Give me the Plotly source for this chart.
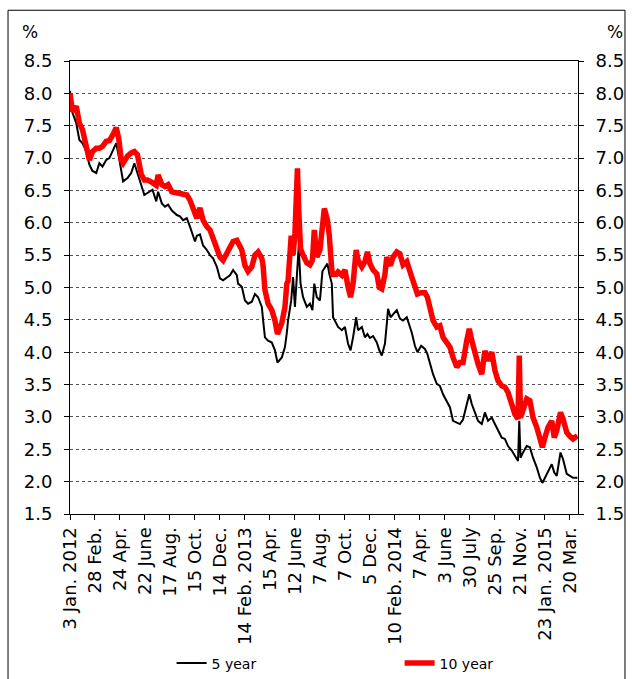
import plotly.graph_objects as go

# trading-day index since 3 Jan 2012 (one tick label every 40 trading days)
day_idx = [
    0, 4, 10, 15, 20, 26, 31, 36, 42, 47, 52, 58, 63, 68, 74, 78, 82, 85, 92, 98,
    103, 108, 114, 119, 124, 132, 138, 141, 147, 152, 157, 163, 171, 176, 181, 187, 192, 197, 200, 203,
    208, 213, 219, 224, 229, 235, 240, 245, 251, 256, 261, 267, 269, 275, 280, 285, 291, 296, 301, 307,
    309, 312, 317, 323, 328, 332, 339, 344, 347, 349, 354, 357, 360, 364, 366, 369, 373, 379, 384, 388,
    391, 395, 400, 404, 407, 412, 415, 419, 421, 426, 429, 435, 440, 445, 449, 453, 458, 461, 467, 472,
    476, 480, 485, 491, 495, 499, 504, 507, 509, 513, 517, 523, 528, 533, 539, 547, 552, 556, 562, 568,
    572, 576, 581, 587, 592, 597, 603, 608, 613, 619, 624, 629, 635, 639, 643, 648, 653, 659, 664, 669,
    675, 680, 685, 691, 696, 701, 707, 712, 717, 719, 721, 725, 731, 736, 741, 747, 752, 756, 760, 765,
    771, 775, 779, 785, 789, 795, 800, 805, 812,
]

yield_5y = [
    8.04, 7.70, 7.54, 7.28, 7.23, 7.10, 6.90, 6.80, 6.77, 6.92, 6.87, 6.97, 7.00, 7.10, 7.23, 7.03, 6.82, 6.64, 6.69, 6.77,
    6.92, 6.77, 6.56, 6.43, 6.46, 6.51, 6.33, 6.48, 6.30, 6.25, 6.28, 6.19, 6.12, 6.10, 6.04, 6.07, 5.94, 5.79, 5.71, 5.80,
    5.82, 5.65, 5.58, 5.50, 5.45, 5.32, 5.14, 5.11, 5.16, 5.19, 5.27, 5.19, 5.06, 5.01, 4.80, 4.75, 4.78, 4.90, 4.85, 4.70,
    4.50, 4.23, 4.18, 4.15, 4.03, 3.84, 3.92, 4.08, 4.30, 4.49, 4.80, 5.16, 4.70, 5.42, 5.63, 5.06, 4.85, 4.70, 4.75, 4.65,
    5.06, 4.85, 4.80, 5.25, 5.30, 5.37, 5.21, 5.06, 4.54, 4.44, 4.39, 4.34, 4.39, 4.13, 4.03, 4.23, 4.54, 4.34, 4.39, 4.23,
    4.28, 4.22, 4.25, 4.15, 4.03, 3.95, 4.13, 4.44, 4.67, 4.54, 4.59, 4.65, 4.52, 4.49, 4.54, 4.30, 4.10, 4.00, 4.10, 4.05,
    3.97, 3.82, 3.66, 3.51, 3.48, 3.35, 3.25, 3.15, 2.94, 2.91, 2.89, 2.96, 3.20, 3.35, 3.20, 3.07, 2.94, 2.89, 3.07, 2.94,
    2.99, 2.89, 2.79, 2.68, 2.66, 2.55, 2.48, 2.40, 2.32, 2.94, 2.37, 2.45, 2.55, 2.53, 2.37, 2.22, 2.06, 1.98, 2.06, 2.17,
    2.27, 2.14, 2.09, 2.45, 2.35, 2.12, 2.09, 2.06, 2.06,
]

yield_10y = [
    8.00, 7.72, 7.80, 7.54, 7.44, 7.18, 6.97, 7.10, 7.15, 7.15, 7.18, 7.26, 7.27, 7.35, 7.47, 7.30, 6.97, 6.92, 7.03, 7.08,
    7.10, 7.05, 6.75, 6.66, 6.66, 6.62, 6.58, 6.74, 6.59, 6.56, 6.59, 6.48, 6.46, 6.46, 6.45, 6.43, 6.35, 6.23, 6.15, 6.07,
    6.23, 6.04, 5.94, 5.89, 5.76, 5.60, 5.47, 5.42, 5.53, 5.60, 5.71, 5.73, 5.68, 5.58, 5.34, 5.25, 5.32, 5.50, 5.55, 5.45,
    5.34, 4.96, 4.75, 4.65, 4.49, 4.28, 4.45, 4.70, 5.06, 5.10, 5.80, 5.50, 5.84, 6.84, 6.20, 5.60, 5.50, 5.38, 5.35, 5.42,
    5.89, 5.47, 5.58, 6.10, 6.22, 6.04, 5.80, 5.27, 5.20, 5.20, 5.24, 5.19, 5.27, 5.01, 4.85, 5.06, 5.58, 5.42, 5.32, 5.40,
    5.55, 5.37, 5.27, 5.21, 5.00, 4.98, 5.20, 5.47, 5.40, 5.34, 5.47, 5.55, 5.52, 5.35, 5.40, 5.16, 4.98, 4.90, 4.92, 4.92,
    4.85, 4.65, 4.49, 4.39, 4.41, 4.23, 4.13, 4.08, 3.92, 3.77, 3.84, 3.84, 4.18, 4.36, 4.18, 3.97, 3.82, 3.66, 4.02, 3.87,
    4.00, 3.72, 3.56, 3.48, 3.46, 3.38, 3.22, 3.04, 2.97, 3.95, 2.99, 3.10, 3.28, 3.25, 2.99, 2.84, 2.63, 2.53, 2.68, 2.84,
    2.94, 2.68, 2.79, 3.07, 2.97, 2.76, 2.70, 2.66, 2.71,
]

tick_labels = [
    "3 Jan. 2012", "28 Feb.", "24 Apr.", "22 June", "17 Aug.", "15 Oct.", "14 Dec.",
    "14 Feb. 2013", "15 Apr.", "12 June", "7 Aug.", "7 Oct.", "5 Dec.",
    "10 Feb. 2014", "7 Apr.", "3 June", "30 July", "25 Sep.", "21 Nov.",
    "23 Jan. 2015", "20 Mar.",
]
tick_step = 40
y_ticks = [1.5, 2.0, 2.5, 3.0, 3.5, 4.0, 4.5, 5.0, 5.5, 6.0, 6.5, 7.0, 7.5, 8.0, 8.5]

FONT = "DejaVu Sans"

fig = go.Figure()
fig.add_trace(go.Scatter(
    x=day_idx, y=yield_5y, name="5 year", mode="lines",
    line=dict(color="#000000", width=2),
))
fig.add_trace(go.Scatter(
    x=day_idx, y=yield_10y, name="10 year", mode="lines",
    line=dict(color="#ff0000", width=5.5),
))
# invisible trace so the right-hand axis is drawn
fig.add_trace(go.Scatter(x=[0], y=[1.5], yaxis="y2", showlegend=False,
                         mode="lines", hoverinfo="skip", line=dict(width=0)))

yax = dict(
    range=[1.5, 8.5], tickvals=y_ticks, tickformat=".1f",
    showline=True, linecolor="#000000", linewidth=1,
    ticks="outside", ticklen=5, tickcolor="#000000",
    ticklabelstandoff=8, automargin=False,
    showgrid=True, gridcolor="#555555", griddash="dot", gridwidth=1,
    zeroline=False, tickfont=dict(size=18, color="#000000"),
)

fig.update_layout(
    width=632, height=679, autosize=False,
    margin=dict(l=70, r=54, t=61, b=165, autoexpand=False),
    paper_bgcolor="white", plot_bgcolor="white",
    font=dict(family=FONT, color="#000000"),
    showlegend=True,
    legend=dict(
        orientation="h", x=0.2, xanchor="left", y=-0.33, yanchor="middle",
        font=dict(size=14), entrywidth=183, entrywidthmode="pixels",
        bgcolor="rgba(0,0,0,0)",
    ),
    xaxis=dict(
        range=[0, 813],
        tickvals=[i * tick_step for i in range(len(tick_labels))],
        ticktext=tick_labels, tickangle=-90, automargin=False,
        showline=True, linecolor="#000000", linewidth=1, mirror=True,
        ticks="outside", ticklen=5, tickcolor="#000000",
        showgrid=False, zeroline=False,
        tickfont=dict(size=18, color="#000000"),
    ),
    yaxis=yax,
    yaxis2=dict(yax, overlaying="y", side="right", showgrid=False),
    shapes=[dict(
        type="rect", xref="paper", yref="paper",
        x0=-0.122, x1=1.0925, y0=-0.6, y1=1.112,
        line=dict(color="#000000", width=1), layer="below",
    )],
    annotations=[
        dict(text="%", xref="paper", yref="paper", x=-0.079, y=1.064,
             xanchor="center", yanchor="middle",
             showarrow=False, font=dict(size=17)),
        dict(text="%", xref="paper", yref="paper", x=1.073, y=1.064,
             xanchor="center", yanchor="middle",
             showarrow=False, font=dict(size=17)),
    ],
)

# drop the default page margin so the figure sits at the window's corner
fig.write_html("out.html", config={"displayModeBar": False},
               post_script="document.body.style.margin='0';")
